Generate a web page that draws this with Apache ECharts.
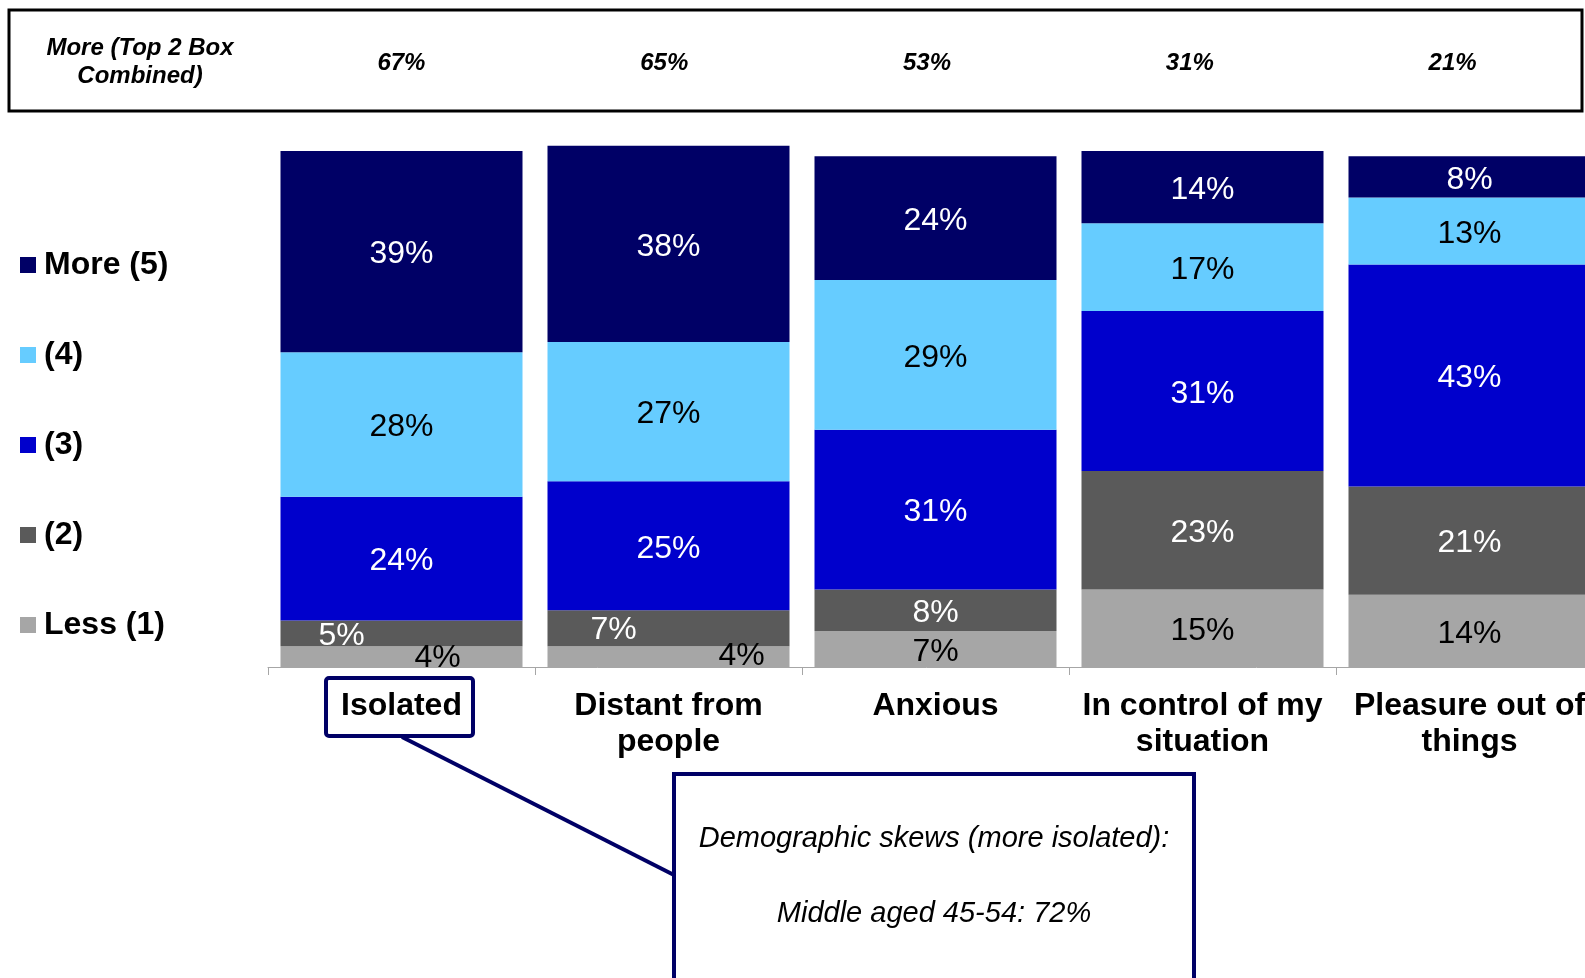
<!DOCTYPE html>
<html>
<head>
<meta charset="utf-8">
<script src="https://cdn.jsdelivr.net/npm/echarts@6/dist/echarts.min.js"></script>
<style>
html,body{margin:0;padding:0;background:#fff;overflow:hidden;}
#chart{width:1585px;height:978px;}
</style>
</head>
<body>
<div id="chart"></div>
<script>
// ---- data ----
var categories = ['Isolated', 'Distant from\npeople', 'Anxious', 'In control of my\nsituation', 'Pleasure out of\nthings'];
var seriesNames = ['Less (1)', '(2)', '(3)', '(4)', 'More (5)'];
var less1 = [4, 4, 7, 15, 14];
var two   = [5, 7, 8, 23, 21];
var three = [24, 25, 31, 31, 43];
var four  = [28, 27, 29, 17, 13];
var more5 = [39, 38, 24, 14, 8];
var top2Combined = [67, 65, 53, 31, 21];
var top2Title = 'More (Top 2 Box\nCombined)';
var calloutLines = ['Demographic skews (more isolated):', 'Middle aged 45-54: 72%'];

// ---- styles ----
var FONT = "'Liberation Sans', Arial, Helvetica, sans-serif";
var colors = ['#A6A6A6', '#5A5A5A', '#0000CC', '#66CCFF', '#000066'];
var labelColors = ['#000000', '#FFFFFF', '#FFFFFF', '#000000', '#FFFFFF'];
var values = [less1, two, three, four, more5];
// label nudges for thin segments (series index -> category index -> offset)
var labelNudge = {0: {0: [36, 1], 1: [73, -1]}, 1: {0: [-60, 3], 1: [-55, 2]}};

var chart = echarts.init(document.getElementById('chart'), null, {renderer: 'canvas'});

var series = values.map(function (arr, si) {
  return {
    name: seriesNames[si],
    type: 'bar',
    stack: 'total',
    barWidth: 242,
    clip: false,
    xAxisIndex: 0,
    yAxisIndex: 0,
    itemStyle: {color: colors[si]},
    label: {
      show: true,
      position: 'inside',
      offset: [0, 3],
      formatter: '{c}%',
      color: labelColors[si],
      fontFamily: FONT,
      fontSize: 32
    },
    data: arr.map(function (v, ci) {
      var d = {value: v};
      if (labelNudge[si] && labelNudge[si][ci]) {
        d.label = {offset: labelNudge[si][ci]};
      }
      return d;
    })
  };
});

series.push({
  type: 'scatter',
  xAxisIndex: 1,
  yAxisIndex: 1,
  symbolSize: 0,
  silent: true,
  itemStyle: {opacity: 1},
  label: {
    show: true,
    position: 'inside',
    formatter: function (p) { return p.value[2] + '%'; },
    color: '#000',
    fontFamily: FONT,
    fontSize: 24,
    fontWeight: 'bold',
    fontStyle: 'italic'
  },
  data: top2Combined.map(function (v, i) { return [i, 0, v]; })
});

var option = {
  animation: false,
  backgroundColor: '#ffffff',
  legend: {
    orient: 'vertical',
    left: 20,
    top: 249,
    padding: 0,
    itemWidth: 16,
    itemHeight: 16,
    itemGap: 58,
    icon: 'rect',
    data: seriesNames.slice().reverse(),
    textStyle: {
      fontFamily: FONT,
      fontSize: 32,
      fontWeight: 'bold',
      color: '#000',
      lineHeight: 32,
      padding: [0, 0, 0, 3]
    }
  },
  grid: [
    {left: 268, width: 1335, top: 151, height: 516, outerBoundsMode: 'none', containLabel: false},
    {left: 270, width: 1314, top: 22, height: 82, outerBoundsMode: 'none', containLabel: false}
  ],
  xAxis: [
    {
      type: 'category',
      gridIndex: 0,
      data: categories,
      axisLine: {show: true, lineStyle: {color: '#A6A6A6', width: 1}},
      axisTick: {show: true, length: 8, lineStyle: {color: '#A6A6A6'}},
      axisLabel: {
        interval: 0,
        margin: 21,
        color: '#000',
        fontFamily: FONT,
        fontSize: 32,
        fontWeight: 'bold',
        lineHeight: 36
      }
    },
    {
      type: 'category',
      gridIndex: 1,
      data: categories,
      show: false
    }
  ],
  yAxis: [
    {type: 'value', gridIndex: 0, min: 0, max: 100, show: false},
    {type: 'value', gridIndex: 1, min: -1, max: 1, show: false}
  ],
  graphic: [
    {type: 'rect', shape: {x: 9, y: 10, width: 1573, height: 101},
     style: {fill: 'none', stroke: '#000', lineWidth: 3}, z: 10},
    {type: 'text', x: 140, y: 62,
     style: {text: top2Title, fill: '#000', font: 'italic bold 24px ' + FONT,
             textAlign: 'center', textVerticalAlign: 'middle', lineHeight: 28}, z: 10},
    {type: 'rect', shape: {x: 326, y: 678, width: 147, height: 58, r: 3},
     style: {fill: 'none', stroke: '#000066', lineWidth: 4}, z: 10},
    {type: 'line', shape: {x1: 402, y1: 737, x2: 674, y2: 875},
     style: {stroke: '#000066', lineWidth: 4}, z: 10},
    {type: 'rect', shape: {x: 674, y: 774, width: 520, height: 230},
     style: {fill: '#fff', stroke: '#000066', lineWidth: 4}, z: 10},
    {type: 'text', x: 934, y: 839,
     style: {text: calloutLines[0], fill: '#000', font: 'italic 29px ' + FONT,
             textAlign: 'center', textVerticalAlign: 'middle'}, z: 11},
    {type: 'text', x: 934, y: 914,
     style: {text: calloutLines[1], fill: '#000', font: 'italic 29px ' + FONT,
             textAlign: 'center', textVerticalAlign: 'middle'}, z: 11}
  ],
  series: series
};

chart.setOption(option);
</script>
</body>
</html>
